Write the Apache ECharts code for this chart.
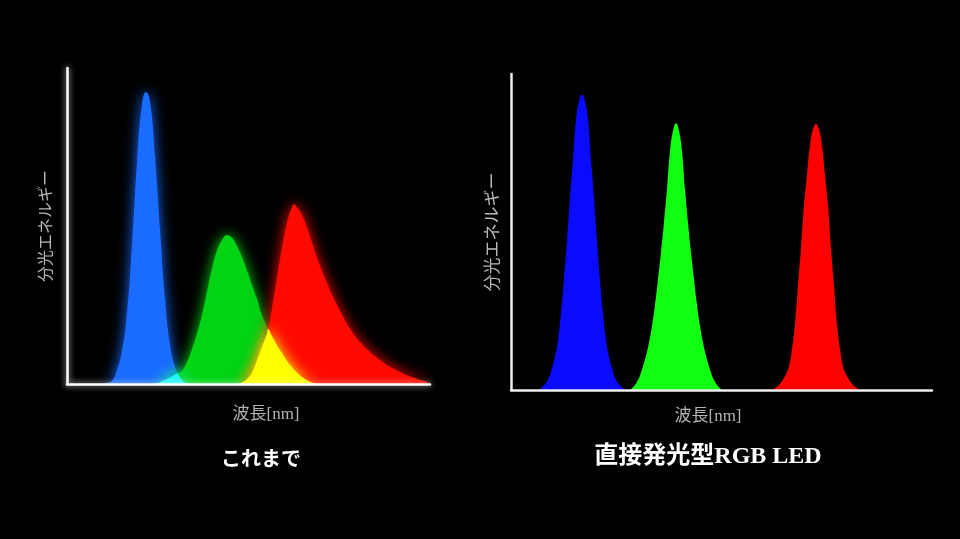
<!DOCTYPE html>
<html>
<head>
<meta charset="utf-8">
<script src="https://cdn.jsdelivr.net/npm/echarts@6/dist/echarts.min.js"></script>
<style>
html,body{margin:0;padding:0;background:#000;}
#chart{width:960px;height:539px;}
</style>
</head>
<body>
<div id="chart"></div>
<script>
// ---- Data (wavelength nm, relative spectral energy 0-100) ----
// Left: conventional ("これまで")
const leftBlue = [[415,0],[420,0.4],[425,1.0],[430,4.5],[435,10.5],[440,22.5],[445,44],[450,70],[455,88.5],[459,92.4],[463,89.5],[468,72],[473,49],[478,27],[483,12.5],[488,5.5],[493,2.0],[498,0.6],[505,0]];
const leftGreen = [[465,0],[470,0.3],[475,0.9],[480,1.6],[485,2.4],[490,3.3],[495,4.2],[500,7.0],[505,11.0],[510,16.0],[515,21.8],[520,29.2],[525,36.5],[530,42.2],[535,45.6],[540,47.1],[545,46.3],[550,43.6],[555,40.1],[560,35.8],[565,31.2],[570,26.8],[575,21.8],[580,18.2],[585,15.2],[590,12.3],[595,9.8],[600,7.3],[605,5.3],[610,3.6],[615,2.2],[620,1.2],[625,0.5],[630,0]];
const leftRed = [[550,0],[555,0.5],[560,1.6],[565,3.6],[570,7.5],[575,11.8],[580,16.0],[585,24.0],[590,33.5],[595,43.0],[600,51.0],[605,56.0],[607,57.0],[610,56.0],[615,53.5],[620,49.5],[625,44.8],[630,40.0],[635,35.8],[640,32.0],[645,28.3],[650,25.0],[655,22.0],[660,19.0],[665,16.5],[670,14.4],[675,12.6],[680,11.0],[685,9.6],[690,8.3],[695,7.1],[700,6.0],[705,5.1],[710,4.3],[715,3.5],[720,2.8],[725,2.2],[730,1.6],[735,1.1],[743,0.6]];
const leftCyan = [[465,0],[470,0.3],[475,0.9],[480,1.6],[485,2.4],[488,2.9],[490,3.3],[493,2.0],[498,0.6],[505,0]];
const leftYellow = [[550,0],[555,0.5],[560,1.6],[565,3.6],[570,7.5],[575,11.8],[580,16.0],[581,17.4],[585,15.2],[590,12.3],[595,9.8],[600,7.3],[605,5.3],[610,3.6],[615,2.2],[620,1.2],[625,0.5],[630,0]];
// Right: direct-emission RGB LED
const rightBlue = [[408,0],[412,1.2],[415,2.2],[418,4.0],[421,7.0],[424,10.5],[427,16],[430,24.5],[433,35],[436,47.5],[439,61],[442,73],[445,85.5],[448,91.4],[451,93.4],[454,91.4],[457,85.5],[460,73],[463,61],[466,47.5],[469,35],[472,24.5],[475,16],[478,10.5],[481,7.0],[484,4.0],[487,2.2],[490,1.2],[494,0]];
const rightGreen = [[499,0],[503,1.2],[506,2.6],[509,4.6],[512,7.5],[515,10.8],[518,15],[521,20.3],[524,27],[527,35],[530,43.5],[533,53],[536,63.5],[539,75.5],[542,82],[545,84.4],[548,82],[551,75.5],[554,63.5],[557,53],[560,43.5],[563,35],[566,27],[569,20.3],[572,15],[575,10.8],[578,7.5],[581,4.6],[584,2.6],[587,1.2],[591,0]];
const rightRed = [[641,0],[645,0.8],[649,2.0],[652,3.3],[655,5.0],[658,7.5],[661,13],[664,21],[667,33],[670,45],[673,58.5],[676,68],[679,77.5],[682,82.5],[685,84.2],[688,82.5],[691,77.5],[694,68],[697,58.5],[700,45],[703,33],[706,21],[709,13],[712,7.5],[715,5.0],[718,3.3],[721,2.0],[725,0.8],[729,0]];

const leftRange = [380, 743];
const rightRange = [380, 801];
const yRange = [0, 100];
const yName = '分光エネルギー';
const xName = '波長[nm]';
const captions = ['これまで', '直接発光型RGB LED'];

const chart = echarts.init(document.getElementById('chart'));

function area(data, color, xi, glow) {
  const st = {color: color, opacity: 1};
  if (glow) { st.shadowBlur = 14; st.shadowColor = color; }
  return {
    type: 'line', xAxisIndex: xi, yAxisIndex: xi, data: data,
    smooth: 0.5, showSymbol: false, silent: true,
    lineStyle: {width: 0, color: color},
    areaStyle: st, z: 2
  };
}

function xAx(idx, range, lineColor, glow) {
  const ls = {color: lineColor, width: 2.5};
  if (glow) { ls.shadowBlur = 6; ls.shadowColor = 'rgba(255,255,255,0.8)'; }
  return {type: 'value', gridIndex: idx, min: range[0], max: range[1],
    axisLine: {show: true, onZero: false, lineStyle: ls},
    axisTick: {show: false}, axisLabel: {show: false}, splitLine: {show: false}, z: 5};
}
function yAx(idx, lineColor, gap, fs, glow) {
  const ls = {color: lineColor, width: 2.5};
  if (glow) { ls.shadowBlur = 6; ls.shadowColor = 'rgba(255,255,255,0.8)'; }
  return {type: 'value', gridIndex: idx, min: yRange[0], max: yRange[1],
    name: yName, nameLocation: 'middle', nameGap: gap,
    nameTextStyle: {color: '#b8b8b8', fontSize: fs, fontFamily: 'Noto Sans CJK JP'},
    axisLine: {show: true, lineStyle: ls},
    axisTick: {show: false}, axisLabel: {show: false}, splitLine: {show: false}, z: 5};
}

const option = {
  backgroundColor: '#000',
  animation: false,
  grid: [
    {left: 67, top: 68, width: 363, height: 316},
    {left: 511, top: 74, width: 421, height: 316}
  ],
  xAxis: [xAx(0, leftRange, '#ffffff', true), xAx(1, rightRange, '#eeeeee', false)],
  yAxis: [yAx(0, '#ffffff', 14, 16, true), yAx(1, '#eeeeee', 11, 17, false)],
  series: [
    area(leftBlue, '#1a6bff', 0, true),
    area(leftGreen, '#00d414', 0, true),
    area(leftRed, '#ff0a00', 0, true),
    area(leftCyan, '#22f5ff', 0, true),
    area(leftYellow, '#ffff00', 0, true),
    area(rightBlue, '#0a0aff', 1, false),
    area(rightGreen, '#11ff11', 1, false),
    area(rightRed, '#ff0000', 1, false)
  ],
  graphic: [
    {type: 'text', x: 266, y: 415, style: {text: xName, fill: '#b4b4b4', font: '17px "Liberation Serif", "Noto Sans CJK JP"', textAlign: 'center', textVerticalAlign: 'middle'}},
    {type: 'text', x: 708, y: 417, style: {text: xName, fill: '#b4b4b4', font: '17px "Liberation Serif", "Noto Sans CJK JP"', textAlign: 'center', textVerticalAlign: 'middle'}},
    {type: 'text', x: 261, y: 458, style: {text: captions[0], fill: '#ffffff', font: 'bold 20px "Noto Sans CJK JP"', textAlign: 'center', textVerticalAlign: 'middle'}},
    {type: 'text', x: 708, y: 457, style: {text: captions[1], fill: '#ffffff', font: 'bold 24px "Liberation Serif", "Noto Sans CJK JP"', textAlign: 'center', textVerticalAlign: 'middle'}}
  ]
};
chart.setOption(option);
</script>
</body>
</html>
